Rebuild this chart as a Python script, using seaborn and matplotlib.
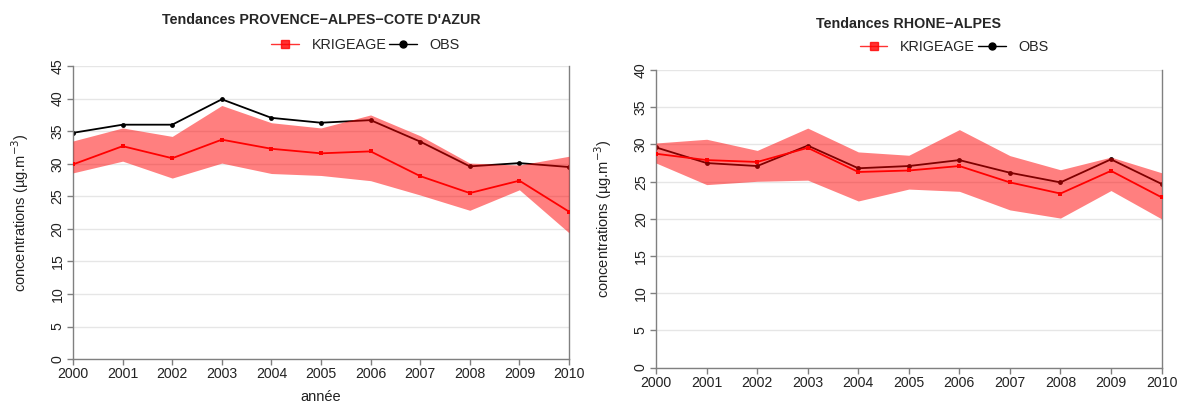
import numpy as np
import pandas as pd
import matplotlib
matplotlib.use("Agg")
import matplotlib.pyplot as plt
import seaborn as sns
from matplotlib.lines import Line2D

years = list(range(2000, 2011))

# PROVENCE-ALPES-COTE D'AZUR
paca_obs = [34.75, 36.0, 36.0, 39.9, 37.05, 36.3, 36.7, 33.4, 29.6, 30.1, 29.5]
paca_krig = [29.9, 32.7, 30.85, 33.7, 32.3, 31.6, 31.9, 28.1, 25.5, 27.4, 22.65]
paca_high = [33.5, 35.5, 34.2, 38.95, 36.3, 35.5, 37.5, 34.3, 30.1, 29.8, 31.15]
paca_low = [28.6, 30.4, 27.8, 30.1, 28.5, 28.2, 27.4, 25.2, 22.85, 26.0, 19.4]

# RHONE-ALPES
ra_obs = [29.6, 27.5, 27.1, 29.85, 26.8, 27.1, 27.9, 26.2, 24.9, 28.0, 24.7]
ra_krig = [28.75, 27.9, 27.65, 29.55, 26.3, 26.5, 27.1, 24.9, 23.4, 26.45, 22.9]
ra_high = [30.2, 30.7, 29.2, 32.2, 29.0, 28.55, 32.0, 28.5, 26.6, 28.3, 26.2]
ra_low = [27.5, 24.6, 25.05, 25.2, 22.4, 24.0, 23.7, 21.2, 20.1, 23.8, 20.0]

sns.set_style("white")
plt.rcParams['font.family'] = ['Liberation Sans', 'DejaVu Sans']

fig = plt.figure(figsize=(11.78, 4.03), dpi=100)
ax1 = fig.add_axes([0.062, 0.109, 0.421, 0.727])
ax2 = fig.add_axes([0.557, 0.088, 0.429, 0.738])


def draw(ax, title, obs, krig, high, low, ymax, xlabel, leg_y):
    df = pd.DataFrame({"annee": years * 2,
                       "val": obs + krig,
                       "serie": ["OBS"] * len(years) + ["KRIGEAGE"] * len(years)})
    sns.lineplot(data=df[df.serie == "OBS"], x="annee", y="val", ax=ax,
                 color="black", lw=1.3, marker="o", markersize=3.5,
                 markeredgewidth=0, zorder=2, legend=False)
    ax.fill_between(years, low, high, color="#ff0000", alpha=0.5, lw=0, zorder=3)
    sns.lineplot(data=df[df.serie == "KRIGEAGE"], x="annee", y="val", ax=ax,
                 color="#ff0000", lw=1.3, marker="s", markersize=3.5,
                 markeredgewidth=0, zorder=4, legend=False)
    ax.set_xlim(2000, 2010)
    ax.set_ylim(0, ymax)
    ax.set_xticks(years)
    ax.set_yticks(np.arange(0, ymax + 1, 5))
    ax.yaxis.grid(True, color="#e6e6e6", lw=1)
    ax.set_axisbelow(True)
    for s in ["left", "bottom", "right"]:
        ax.spines[s].set_color("#808080")
        ax.spines[s].set_linewidth(1)
    ax.spines["top"].set_visible(False)
    ax.tick_params(axis="both", direction="out", length=4, width=1, pad=2,
                   color="#808080", labelsize=10.2, labelcolor="#222222",
                   left=True, bottom=True)
    for lab in ax.get_yticklabels():
        lab.set_rotation(90)
        lab.set_va("center")
    ax.set_ylabel("concentrations (µg.m$^{-3}$)", fontsize=10.5, color="#222222", labelpad=14)
    ax.set_xlabel(xlabel, fontsize=10.5, color="#222222", labelpad=6)
    ax.set_title(title, fontsize=10.3, fontweight="bold", pad=30)
    handles = [Line2D([], [], color="#ff0000", lw=1, alpha=0.8, marker="s", markersize=6),
               Line2D([], [], color="black", lw=1, marker="o", markersize=5)]
    ax.legend(handles, ["KRIGEAGE", "OBS"], ncol=2, frameon=False, fontsize=10.4,
              loc="lower center", bbox_to_anchor=(0.59, leg_y), columnspacing=0.2,
              handlelength=1.9, handletextpad=0.9)


draw(ax1, "Tendances PROVENCE\u2212ALPES\u2212COTE D'AZUR", paca_obs, paca_krig,
     paca_high, paca_low, 45, "année", 1.005)
draw(ax2, "Tendances RHONE\u2212ALPES", ra_obs, ra_krig, ra_high, ra_low, 40, "", 1.01)

fig.savefig("out.png", dpi=100)
